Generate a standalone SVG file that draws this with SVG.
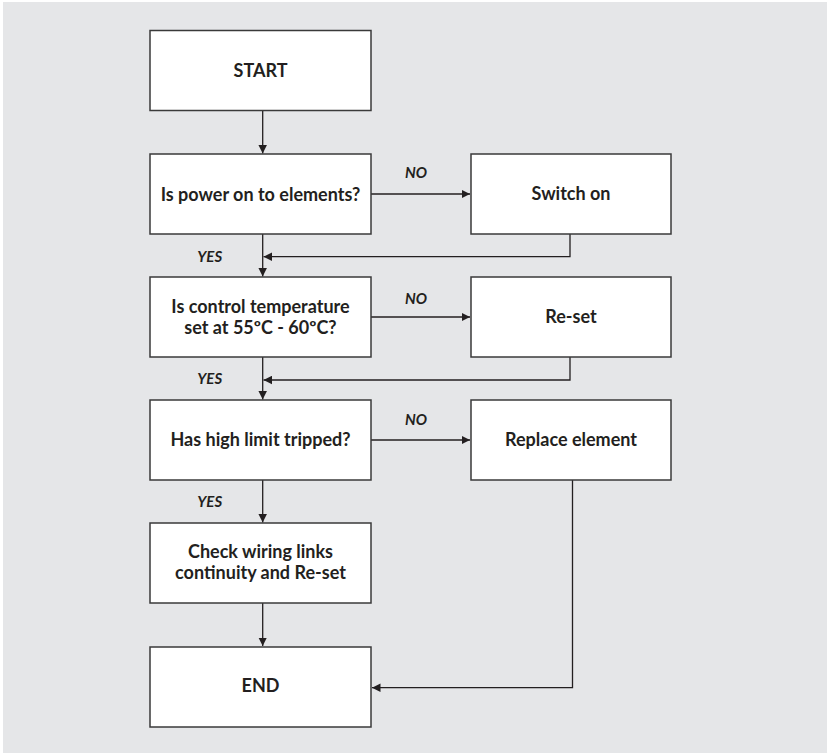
<svg xmlns="http://www.w3.org/2000/svg" width="827" height="753" viewBox="0 0 827 753">
<style>
.bg{fill:#e5e6e8}
.box{fill:#ffffff;stroke:#3a3a3a;stroke-width:1.5}
.t{font-family:Lato,"Open Sans","Liberation Sans",sans-serif;font-weight:700;font-size:18px;fill:#231f20;text-anchor:middle}
.lbl{font-family:Lato,"Open Sans","Liberation Sans",sans-serif;font-weight:700;font-style:italic;font-size:15px;fill:#231f20;text-anchor:middle}
.c{fill:none;stroke:#231f20;stroke-width:1.3}
</style>
<defs>
<marker id="ah" viewBox="0 0 10 10" refX="10" refY="5" markerWidth="8.5" markerHeight="9" markerUnits="userSpaceOnUse" orient="auto">
<path d="M0,0 L10,5 L0,10 Z" fill="#231f20"/>
</marker>
</defs>
<rect class="bg" x="3" y="2" width="824" height="751"/>
<g id="connectors">
<path class="c" d="M262.7,110.5 V153.5" marker-end="url(#ah)"/>
<path class="c" d="M371,194 H470" marker-end="url(#ah)"/>
<path class="c" d="M570,234 V256.7 H263.5" marker-end="url(#ah)"/>
<path class="c" d="M262.7,234 V276.5" marker-end="url(#ah)"/>
<path class="c" d="M371,317 H470" marker-end="url(#ah)"/>
<path class="c" d="M570,357 V380 H263.5" marker-end="url(#ah)"/>
<path class="c" d="M262.7,357 V399.5" marker-end="url(#ah)"/>
<path class="c" d="M371,440 H470" marker-end="url(#ah)"/>
<path class="c" d="M262.7,480 V522.5" marker-end="url(#ah)"/>
<path class="c" d="M262.7,603 V646" marker-end="url(#ah)"/>
<path class="c" d="M572.5,480 V687.7 H372" marker-end="url(#ah)"/>
</g>
<g id="labels">
<text class="lbl" x="416" y="178">NO</text>
<text class="lbl" x="416" y="303.5">NO</text>
<text class="lbl" x="416" y="424.5">NO</text>
<text class="lbl" x="209.7" y="262.3">YES</text>
<text class="lbl" x="209.7" y="384.3">YES</text>
<text class="lbl" x="209.7" y="506.7">YES</text>
</g>
<g id="start"><rect class="box" x="150" y="30.5" width="221" height="80"/><text class="t" x="260.5" y="76.5">START</text></g>
<g id="power"><rect class="box" x="150" y="154" width="221" height="80"/><text class="t" x="260.5" y="200.5">Is power on to elements?</text></g>
<g id="switch-on"><rect class="box" x="471" y="154" width="200" height="80"/><text class="t" x="571" y="200">Switch on</text></g>
<g id="control-temp"><rect class="box" x="150" y="277" width="221" height="80"/><text class="t" x="260.5" y="312.7">Is control temperature</text><text class="t" x="260.5" y="334">set at 55ºC - 60ºC?</text></g>
<g id="re-set"><rect class="box" x="471" y="277" width="200" height="80"/><text class="t" x="571" y="323">Re-set</text></g>
<g id="high-limit"><rect class="box" x="150" y="400" width="221" height="80"/><text class="t" x="260.5" y="446">Has high limit tripped?</text></g>
<g id="replace"><rect class="box" x="471" y="400" width="200" height="80"/><text class="t" x="571" y="446">Replace element</text></g>
<g id="check-wiring"><rect class="box" x="150" y="523" width="221" height="80"/><text class="t" x="260.5" y="558">Check wiring links</text><text class="t" x="260.5" y="579">continuity and Re-set</text></g>
<g id="end"><rect class="box" x="150" y="647" width="221" height="80"/><text class="t" x="260.5" y="692">END</text></g>
</svg>
